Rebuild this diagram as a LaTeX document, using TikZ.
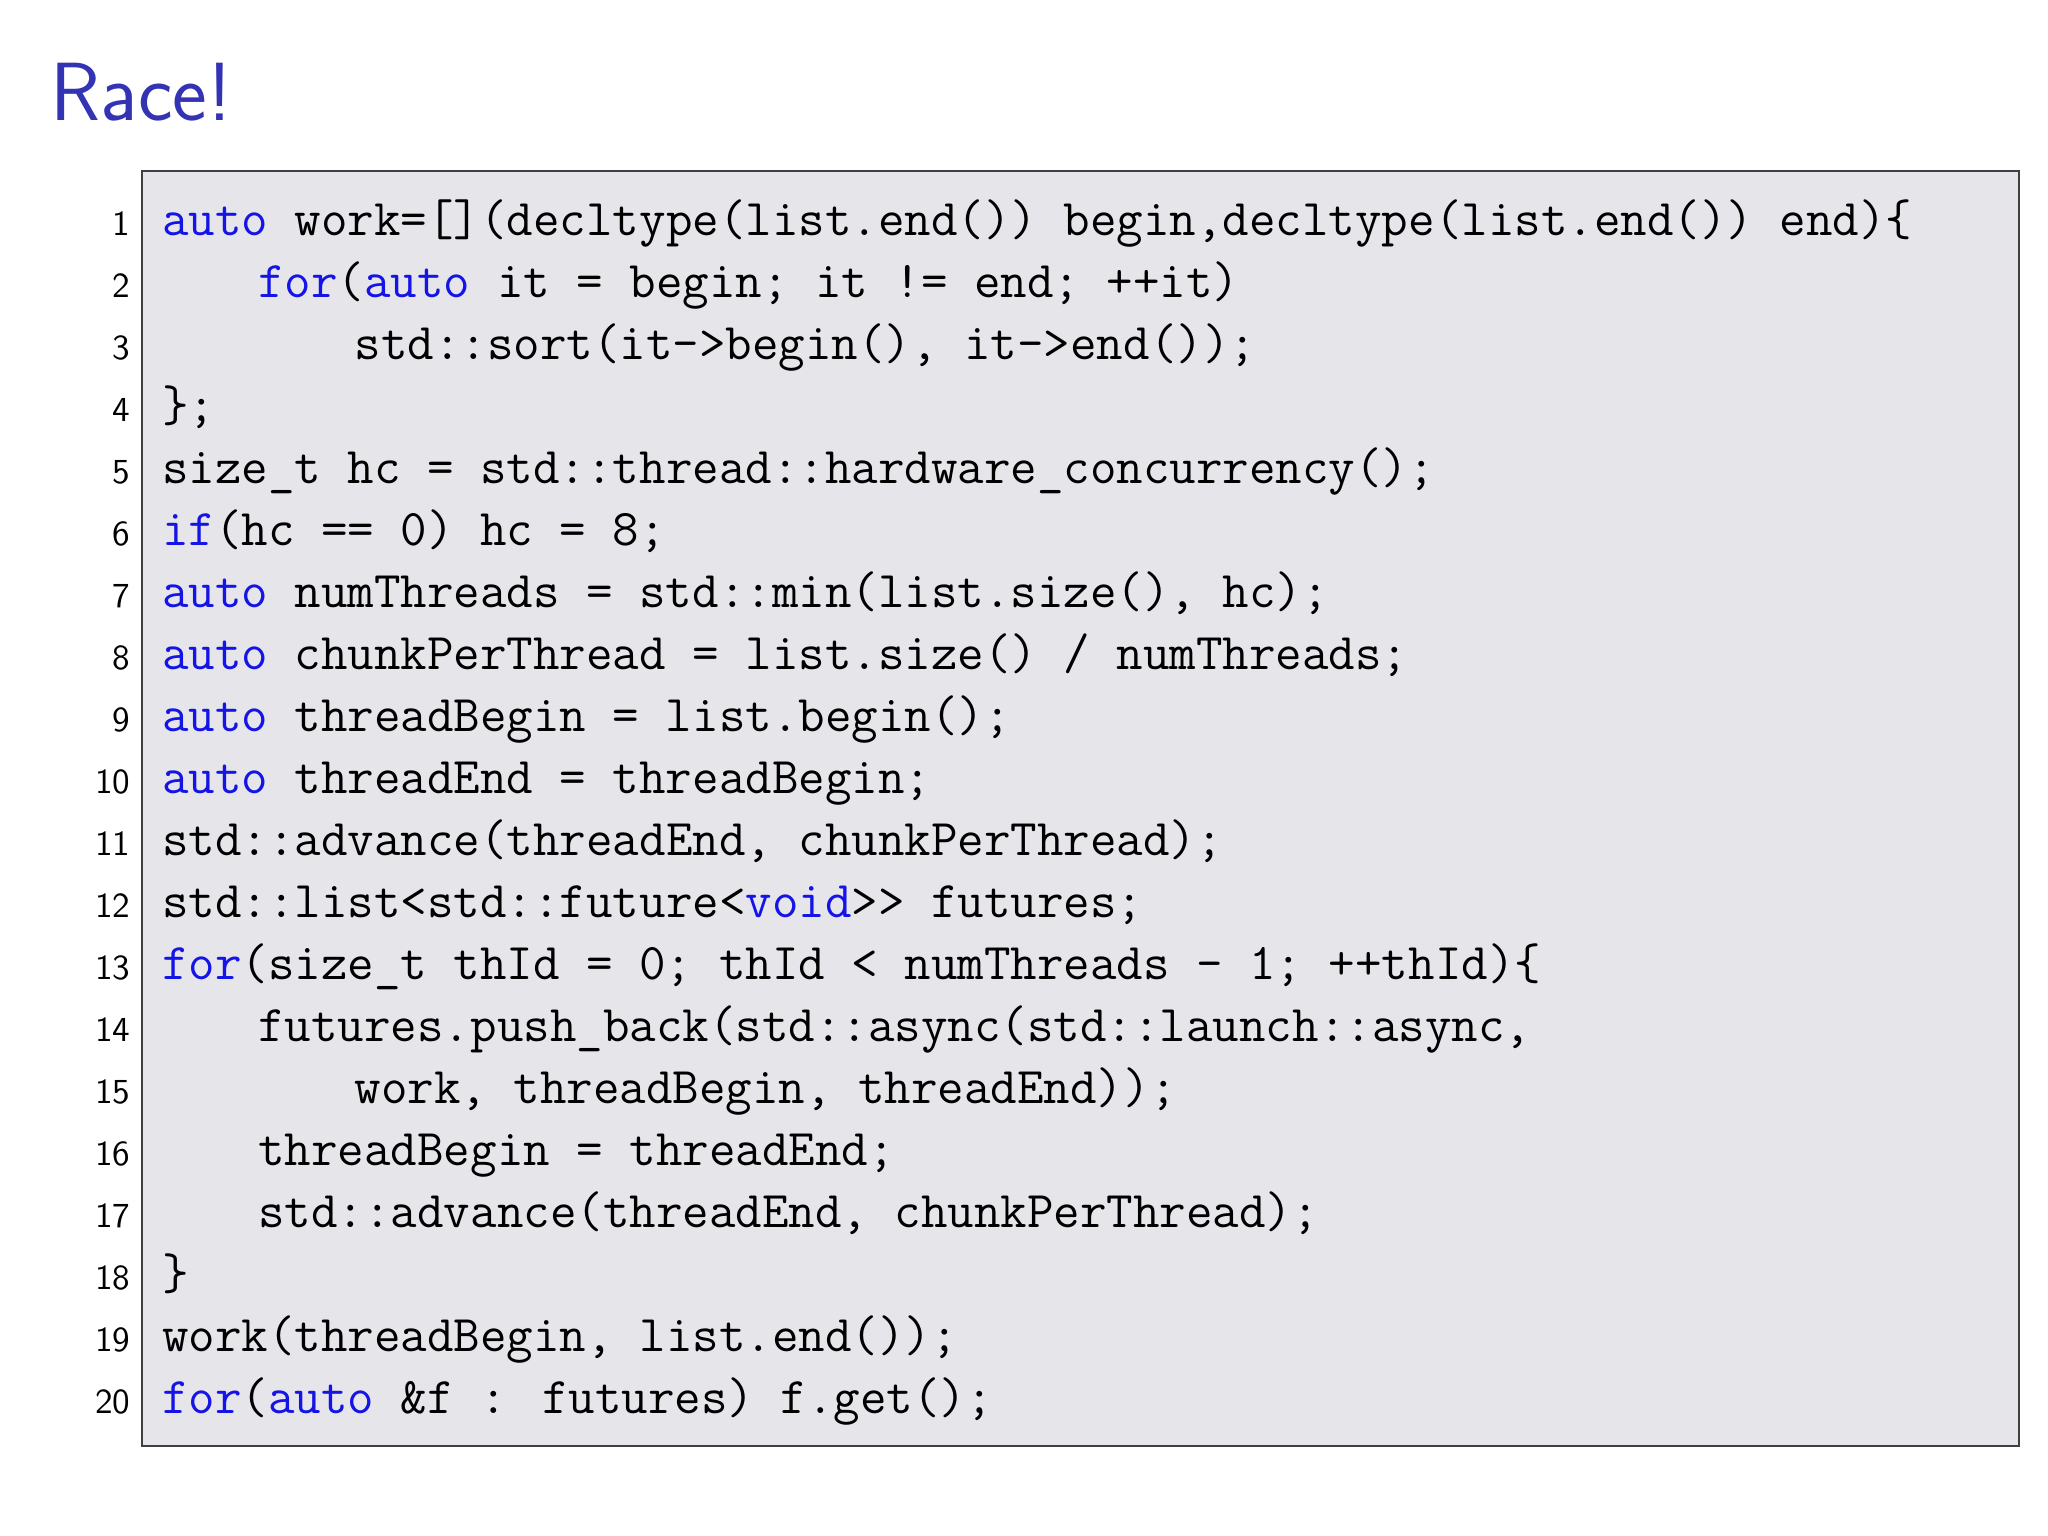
\documentclass[tikz,border=0pt]{standalone}
\usepackage{fontspec}
\usepackage{xcolor}
\definecolor{kwblue}{RGB}{20,20,230}
\definecolor{titleblue}{RGB}{51,51,179}
\definecolor{boxfill}{RGB}{230,229,234}
\newcommand{\kw}[1]{\textcolor{kwblue}{#1}}
\tikzset{codeline/.style={anchor=base west,inner sep=0pt,font=\fontsize{14.65}{17}\selectfont\ttfamily},
lnum/.style={anchor=base east,inner sep=0pt,font=\fontsize{10}{12}\selectfont\sffamily}}
\begin{document}
\begin{tikzpicture}
\useasboundingbox (0,0) rectangle (20.48,15.36);
\node[anchor=base west,inner sep=0pt,text=titleblue,font=\fontsize{23.5}{28}\selectfont\sffamily] (title) at (0.50,14.15) {Race!};
\draw[draw=black!75,fill=boxfill,line width=0.8pt] (1.42,13.65) rectangle (20.19,0.90);
\foreach \n/\ii/\txt in {
1/0/{\kw{auto} work=[](decltype(list.end()) begin,decltype(list.end()) end)\{},
2/1/{\kw{for}(\kw{auto} it = begin; it != end; ++it)},
3/2/{std::sort(it->begin(), it->end());},
4/0/{\};},
5/0/{size\_t hc = std::thread::hardware\_concurrency();},
6/0/{\kw{if}(hc == 0) hc = 8;},
7/0/{\kw{auto} numThreads = std::min(list.size(), hc);},
8/0/{\kw{auto} chunkPerThread = list.size() / numThreads;},
9/0/{\kw{auto} threadBegin = list.begin();},
10/0/{\kw{auto} threadEnd = threadBegin;},
11/0/{std::advance(threadEnd, chunkPerThread);},
12/0/{std::list<std::future<\kw{void}>{}> futures;},
13/0/{\kw{for}(size\_t thId = 0; thId < numThreads - 1; ++thId)\{},
14/1/{futures.push\_back(std::async(std::launch::async,},
15/2/{work, threadBegin, threadEnd));},
16/1/{threadBegin = threadEnd;},
17/1/{std::advance(threadEnd, chunkPerThread);},
18/0/{\}},
19/0/{work(threadBegin, list.end());},
20/0/{\kw{for}(\kw{auto} \&f : futures) f.get();}}
{
  \node[lnum] (n\n) at (1.31,{13.00-(\n-1)*0.6195}) {\n};
  \node[codeline] (c\n) at ({1.615+\ii*0.9615},{13.00-(\n-1)*0.6195}) {\txt};
}
\end{tikzpicture}
\end{document}
